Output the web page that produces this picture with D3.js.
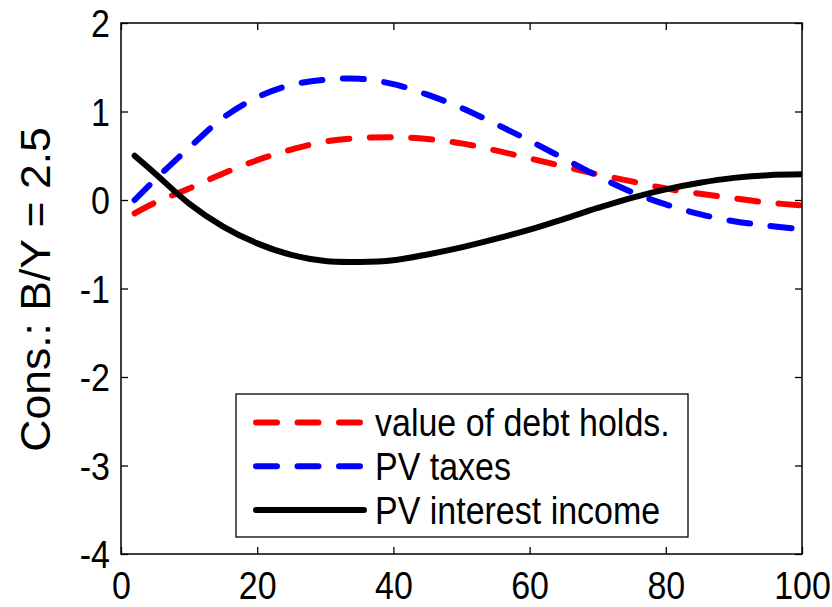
<!DOCTYPE html>
<html>
<head>
<meta charset="utf-8">
<script src="https://cdn.jsdelivr.net/npm/d3@7"></script>
<style>
  body { margin: 0; background: #fff; }
  text { font-family: Arial, "Liberation Sans", Helvetica, sans-serif; fill: #000; }
</style>
</head>
<body>
<div id="chart"></div>
<script>
// horizon (x) and the three series
var xVals = [2, 5, 10, 15, 20, 25, 30, 35, 40, 45, 50, 55, 60, 65, 70, 75, 80, 85, 90, 95, 100];
var debtValue = [-0.15, -0.03, 0.13, 0.30, 0.45, 0.57, 0.66, 0.70, 0.71, 0.69, 0.64, 0.56, 0.47, 0.38, 0.29, 0.21, 0.13, 0.07, 0.02, -0.03, -0.06];
var pvTaxes = [0.0, 0.23, 0.59, 0.93, 1.16, 1.30, 1.36, 1.37, 1.31, 1.19, 1.04, 0.86, 0.67, 0.47, 0.27, 0.09, -0.05, -0.16, -0.24, -0.29, -0.33];
var pvInterest = [0.5, 0.30, -0.04, -0.30, -0.49, -0.62, -0.69, -0.70, -0.68, -0.615, -0.535, -0.44, -0.335, -0.215, -0.09, 0.025, 0.12, 0.195, 0.25, 0.28, 0.29];
var seriesNames = ["value of debt holds.", "PV taxes", "PV interest income"];
var seriesColors = ["#ff0000", "#0000ff", "#000000"];
var seriesDash = ["21,20.5", "21,20.5", null];
var xTicks = [0, 20, 40, 60, 80, 100];
var yTicks = [-4, -3, -2, -1, 0, 1, 2];
var yLabel = "Cons.: B/Y = 2.5";

var width = 832, height = 607,
    plotLeft = 121, plotRight = 802, plotTop = 23, plotBottom = 554,
    tickLen = 7, lineW = 6,
    stretch = "scale(1,1.12)";   // the original text is a bit taller than wide

var svg = d3.select("#chart").append("svg")
    .attr("width", width)
    .attr("height", height);

var x = d3.scaleLinear().domain([0, 100]).range([plotLeft, plotRight]);
var y = d3.scaleLinear().domain([-4, 2]).range([plotBottom, plotTop]);

// lines
var allSeries = [debtValue, pvTaxes, pvInterest];
var line = d3.line()
    .x(function(d, i) { return x(xVals[i]); })
    .y(function(d) { return y(d); })
    .curve(d3.curveCatmullRom.alpha(0.5));

svg.append("defs").append("clipPath").attr("id", "clip")
    .append("rect").attr("x", plotLeft).attr("y", plotTop)
    .attr("width", plotRight - plotLeft).attr("height", plotBottom - plotTop);

svg.append("g").selectAll(".series")
    .data(allSeries)
    .enter().append("path")
    .attr("class", "series")
    .attr("clip-path", "url(#clip)")
    .attr("d", line)
    .attr("fill", "none")
    .attr("stroke", function(d, i) { return seriesColors[i]; })
    .attr("stroke-width", lineW)
    .attr("stroke-linecap", "round")
    .attr("stroke-linejoin", "round")
    .attr("stroke-dasharray", function(d, i) { return seriesDash[i]; });

// axes, ticks pointing inward on all four sides
var axisFont = "34px";
var plainNum = function(d) { return String(d); };   // hyphen minus, like the original
var xBottom = svg.append("g").attr("transform", "translate(0," + plotBottom + ")")
    .call(d3.axisBottom(x).tickValues(xTicks).tickSize(-tickLen).tickPadding(16).tickFormat(plainNum));
var xTop = svg.append("g").attr("transform", "translate(0," + plotTop + ")")
    .call(d3.axisTop(x).tickValues(xTicks).tickSize(-tickLen).tickFormat(""));
var yLeft = svg.append("g").attr("transform", "translate(" + plotLeft + ",0)")
    .call(d3.axisLeft(y).tickValues(yTicks).tickSize(-tickLen).tickPadding(11).tickFormat(plainNum));
var yRight = svg.append("g").attr("transform", "translate(" + plotRight + ",0)")
    .call(d3.axisRight(y).tickValues(yTicks).tickSize(-tickLen).tickFormat(""));

[xBottom, xTop, yLeft, yRight].forEach(function(g) {
    g.select(".domain").remove();
    g.selectAll(".tick line").attr("stroke", "#000").attr("stroke-width", 1.3);
    g.selectAll(".tick text").style("font-size", axisFont).attr("fill", "#000").attr("transform", stretch);
});
xBottom.selectAll(".tick text").attr("dy", "0.71em");
yLeft.selectAll(".tick text").attr("dy", "0.36em");

// frame
svg.append("rect")
    .attr("x", plotLeft).attr("y", plotTop)
    .attr("width", plotRight - plotLeft).attr("height", plotBottom - plotTop)
    .attr("fill", "none").attr("stroke", "#000").attr("stroke-width", 1.5);

// y label
svg.append("text")
    .attr("transform", "translate(50," + ((plotTop + plotBottom) / 2 + 1) + ") rotate(-90) scale(1.06,1)")
    .attr("text-anchor", "middle")
    .style("font-size", "42px")
    .text(yLabel);

// legend
var lg = svg.append("g");
lg.append("rect")
    .attr("x", 236).attr("y", 394)
    .attr("width", 452).attr("height", 143)
    .attr("fill", "#fff").attr("stroke", "#000").attr("stroke-width", 1.3);

var rowY = d3.scalePoint().domain(seriesNames).range([422.5, 510]);
var items = lg.selectAll(".legendItem")
    .data(seriesNames)
    .enter().append("g")
    .attr("class", "legendItem")
    .attr("transform", function(d) { return "translate(0," + rowY(d) + ")"; });

items.append("line")
    .attr("x1", 256).attr("x2", 364)
    .attr("y1", 0).attr("y2", 0)
    .attr("stroke", function(d, i) { return seriesColors[i]; })
    .attr("stroke-width", lineW)
    .attr("stroke-linecap", "round")
    .attr("stroke-dasharray", function(d, i) { return seriesDash[i]; });

items.append("text")
    .attr("x", 375)
    .attr("y", 0)
    .attr("dy", "0.36em")
    .attr("transform", stretch)
    .style("font-size", "34px")
    .text(function(d) { return d; });
</script>
</body>
</html>
